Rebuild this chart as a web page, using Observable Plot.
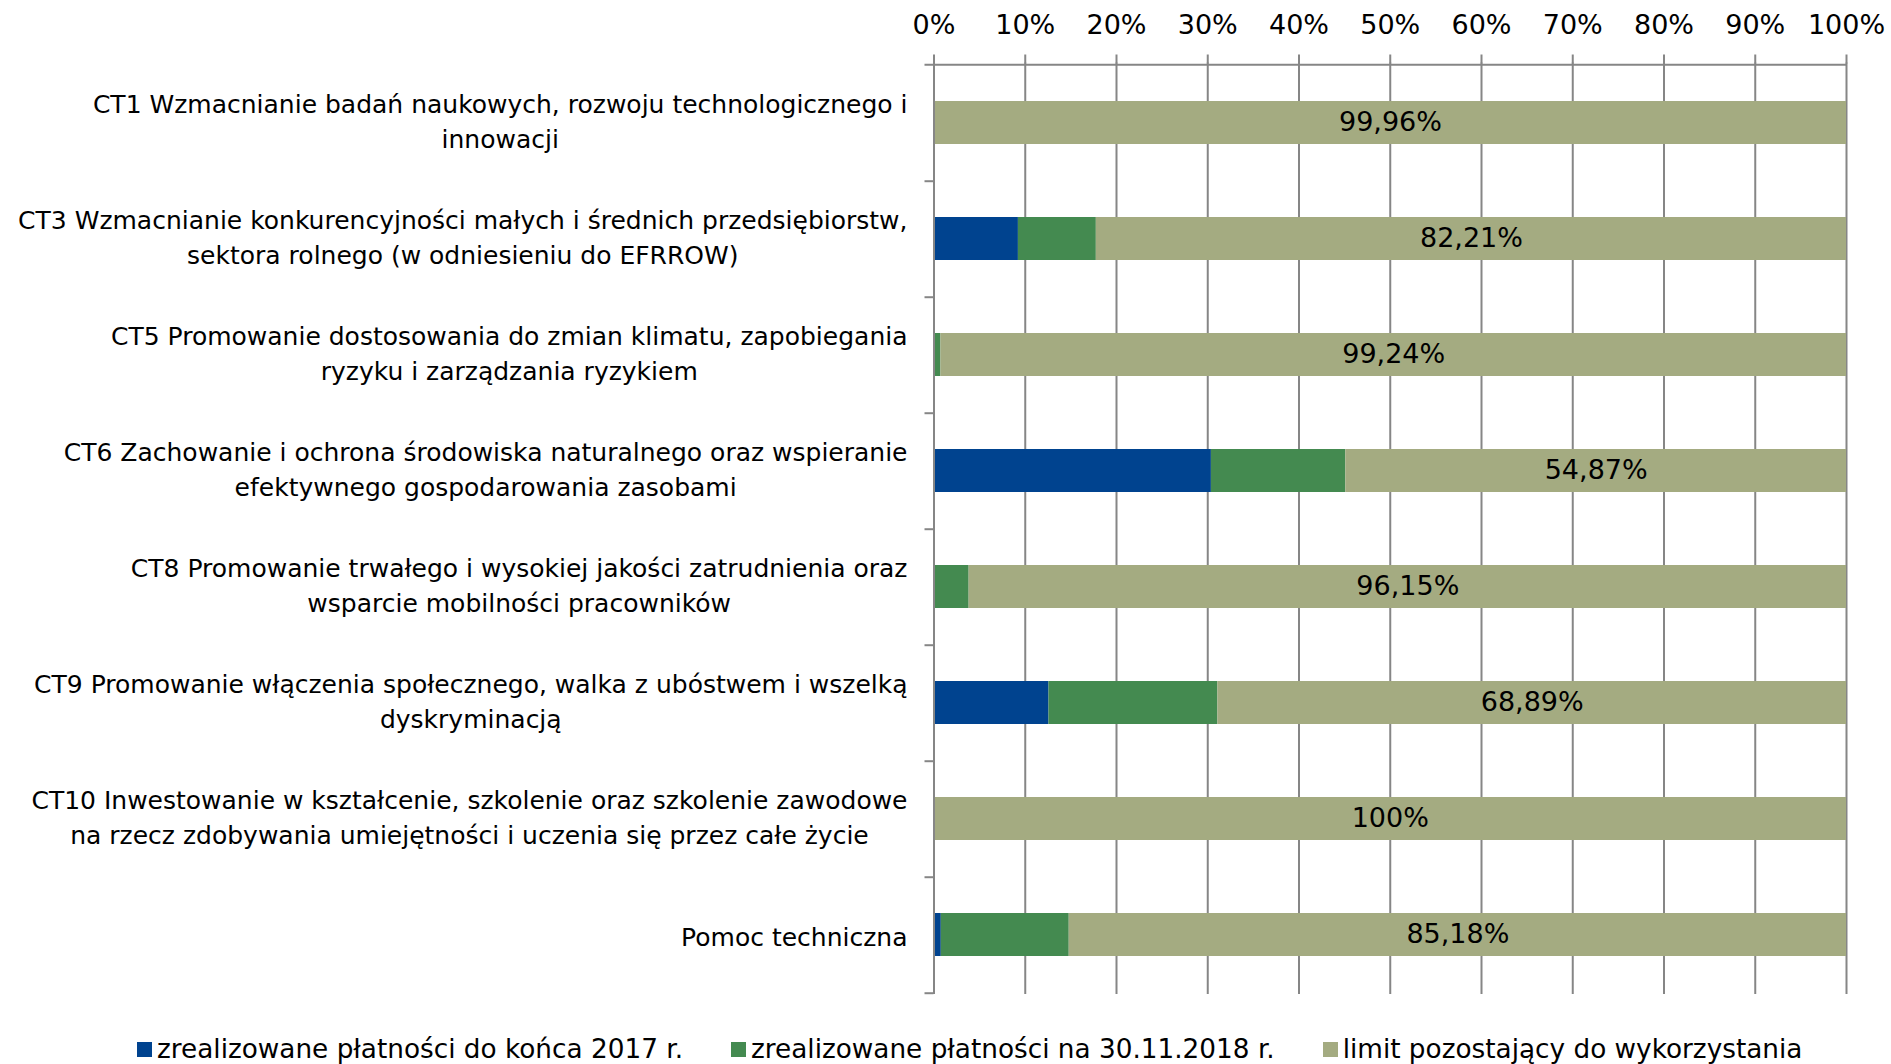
<!DOCTYPE html>
<html>
<head>
<meta charset="utf-8">
<script src="https://cdn.jsdelivr.net/npm/d3@7"></script>
<script src="https://cdn.jsdelivr.net/npm/@observablehq/plot@0.6"></script>
<style>
  html, body { margin: 0; padding: 0; background: #fff; overflow: hidden; }
  body { font-family: 'DejaVu Sans', sans-serif; color: #000; }
  #legend { display: flex; align-items: center; height: 58px; padding-left: 137px; font-size: 26.3px; white-space: nowrap; }
  .item { display: flex; align-items: center; margin-right: 48px; }
  .swatch { width: 15px; height: 15px; margin-right: 5px; display: inline-block; }
</style>
</head>
<body>
<div id="chart"></div>
<div id="legend"></div>
<script>
const categories = [
  "CT1 Wzmacnianie badań naukowych, rozwoju technologicznego i\ninnowacji",
  "CT3 Wzmacnianie konkurencyjności małych i średnich przedsiębiorstw,\nsektora rolnego (w odniesieniu do EFRROW)",
  "CT5 Promowanie dostosowania do zmian klimatu, zapobiegania\nryzyku i zarządzania ryzykiem",
  "CT6 Zachowanie i ochrona środowiska naturalnego oraz wspieranie\nefektywnego gospodarowania zasobami",
  "CT8 Promowanie trwałego i wysokiej jakości zatrudnienia oraz\nwsparcie mobilności pracowników",
  "CT9 Promowanie włączenia społecznego, walka z ubóstwem i wszelką\ndyskryminacją",
  "CT10 Inwestowanie w kształcenie, szkolenie oraz szkolenie zawodowe\nna rzecz zdobywania umiejętności i uczenia się przez całe życie",
  "Pomoc techniczna"
];
const seriesNames = [
  "zrealizowane płatności do końca 2017 r.",
  "zrealizowane płatności na 30.11.2018 r.",
  "limit pozostający do wykorzystania"
];
const seriesColors = ["#00438F", "#448A50", "#A4AB81"];
const paid2017 = [0, 9.25, 0, 30.4, 0, 12.6, 0, 0.8];
const paid2018 = [0.04, 8.54, 0.76, 14.73, 3.85, 18.51, 0, 14.02];
const remaining = [99.96, 82.21, 99.24, 54.87, 96.15, 68.89, 100, 85.18];
const xTicks = [0, 10, 20, 30, 40, 50, 60, 70, 80, 90, 100];

const W = 1891, H = 1020, mL = 933.5, mR = 45, mT = 62.5, mB = 26;
const step = (H - mT - mB) / categories.length;
const grey = "#868686";
const font = "'DejaVu Sans', sans-serif";

const seriesValues = [paid2017, paid2018, remaining];
const rows = categories.flatMap((c, i) =>
  seriesNames.map((s, k) => ({category: c, series: s, value: seriesValues[k][i]}))
);
const fmt = v => String(v).replace(".", ",") + "%";

const plot = Plot.plot({
  width: W, height: H,
  marginLeft: mL, marginRight: mR, marginTop: mT, marginBottom: mB,
  style: {fontFamily: font, fontSize: "25px", color: "#000", background: "#fff", overflow: "visible"},
  x: {domain: [0, 100]},
  y: {domain: categories, paddingInner: 0.627, paddingOuter: 0.3135},
  color: {domain: seriesNames, range: seriesColors},
  marks: [
    Plot.gridX(xTicks, {stroke: grey, strokeOpacity: 1, strokeWidth: 2}),
    Plot.barX(rows, Plot.stackX({x: "value", y: "category", fill: "series"})),
    Plot.text(rows, Plot.stackX({
      x: "value", y: "category",
      text: d => d.series === seriesNames[2] ? fmt(d.value) : null,
      fontSize: 27, fill: "#000", dy: -1
    })),
    Plot.ruleX([0], {stroke: grey, strokeWidth: 2}),
    Plot.ruleY([categories[0]], {dy: -step / 2, insetLeft: -9, stroke: grey, strokeWidth: 2}),
    Plot.axisX(xTicks, {
      anchor: "top", tickFormat: d => d + "%", tickSize: 9, tickPadding: 20,
      fontSize: 27, stroke: grey, strokeWidth: 2, strokeOpacity: 1, fill: "#000", label: null
    }),
    Plot.axisY({
      tickSize: 9, dy: step / 2, tickFormat: () => "", stroke: grey, strokeWidth: 2, strokeOpacity: 1, label: null
    }),
    Plot.axisY({
      tickSize: 0, tickPadding: 26.5, fontSize: 25, lineHeight: 35 / 25, fill: "#000", label: null
    })
  ]
});
document.getElementById("chart").appendChild(plot);

// Center each multi-line category label as a block, right-aligned to the axis
plot.querySelectorAll('g[aria-label="y-axis tick label"] text').forEach(t => {
  const w = t.getBBox().width;
  const multi = t.querySelectorAll("tspan").length > 1;
  t.setAttribute("text-anchor", "middle");
  t.setAttribute("transform", (t.getAttribute("transform") || "") + ` translate(${-w / 2},${multi ? -4 : 0})`);
});

const legend = document.getElementById("legend");
seriesNames.forEach((s, k) => {
  const item = document.createElement("div");
  item.className = "item";
  const sw = document.createElement("span");
  sw.className = "swatch";
  sw.style.background = seriesColors[k];
  const tx = document.createElement("span");
  tx.textContent = s;
  item.appendChild(sw);
  item.appendChild(tx);
  legend.appendChild(item);
});
</script>
</body>
</html>
